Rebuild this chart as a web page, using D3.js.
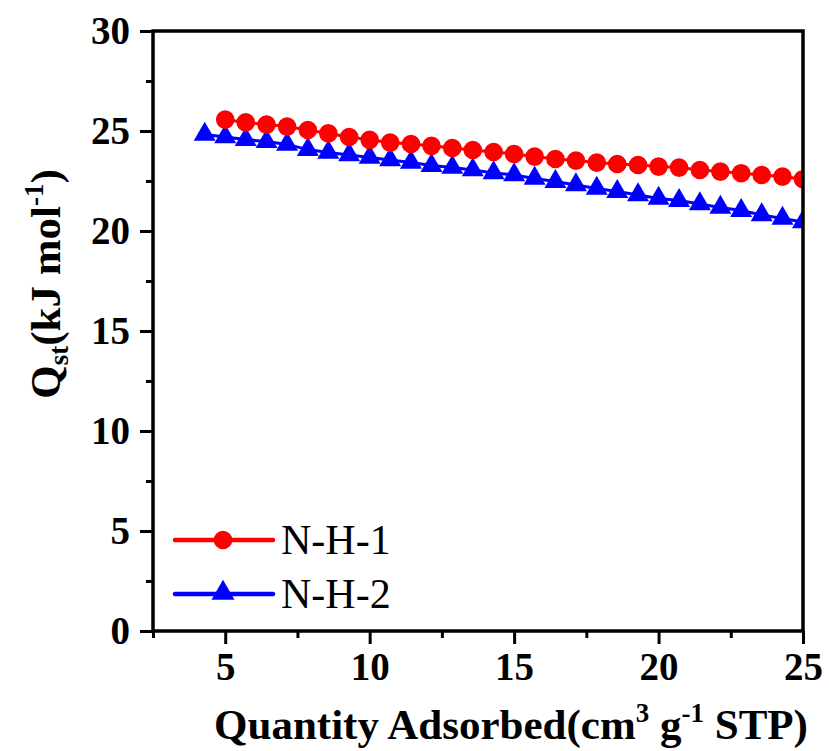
<!DOCTYPE html>
<html>
<head>
<meta charset="utf-8">
<script src="https://cdn.jsdelivr.net/npm/d3@7"></script>
<style>
  html, body { margin: 0; padding: 0; background: #fff; }
  svg { display: block; }
</style>
</head>
<body>
<div id="chart"></div>
<script>
// ---- data ----
const seriesNames = ["N-H-1", "N-H-2"];
const xNH1 = [5.0, 5.71, 6.43, 7.14, 7.86, 8.57, 9.29, 10.0, 10.71, 11.43, 12.14, 12.86, 13.57, 14.29, 15.0,
  15.71, 16.43, 17.14, 17.86, 18.57, 19.29, 20.0, 20.71, 21.43, 22.14, 22.86, 23.57, 24.29, 25.0];
const yNH1 = [25.57, 25.43, 25.32, 25.22, 25.05, 24.88, 24.7, 24.56, 24.42, 24.35, 24.26, 24.15, 24.05, 23.95, 23.85,
  23.72, 23.6, 23.52, 23.42, 23.35, 23.3, 23.22, 23.17, 23.05, 22.97, 22.89, 22.8, 22.72, 22.59];
const xNH2 = [4.29, 5.0, 5.71, 6.43, 7.14, 7.86, 8.57, 9.29, 10.0, 10.71, 11.43, 12.14, 12.86, 13.57, 14.29, 15.0,
  15.71, 16.43, 17.14, 17.86, 18.57, 19.29, 20.0, 20.71, 21.43, 22.14, 22.86, 23.57, 24.29, 25.0];
const yNH2 = [24.83, 24.7, 24.57, 24.47, 24.33, 24.07, 23.93, 23.8, 23.68, 23.55, 23.43, 23.27, 23.18, 23.05, 22.9,
  22.8, 22.63, 22.47, 22.3, 22.13, 21.97, 21.8, 21.63, 21.52, 21.35, 21.18, 21.02, 20.8, 20.63, 20.45];
const xMajorTicks = [5, 10, 15, 20, 25];
const xMinorTicks = [2.5, 7.5, 12.5, 17.5, 22.5];
const yMajorTicks = [0, 5, 10, 15, 20, 25, 30];
const yMinorTicks = [2.5, 7.5, 12.5, 17.5, 22.5, 27.5];

// ---- layout ----
const W = 829, H = 751;
const L = 153, R = 803, T = 31, B = 631;
const FONT = "'Liberation Serif', 'Times New Roman', serif";

const svg = d3.select("#chart").append("svg").attr("width", W).attr("height", H);

const x = d3.scaleLinear().domain([2.5, 25]).range([L, R]);
const y = d3.scaleLinear().domain([0, 30]).range([B, T]);

svg.append("defs").append("clipPath").attr("id", "plotclip")
  .append("rect").attr("x", L).attr("y", T).attr("width", R - L).attr("height", B - T);

const series = [
  { name: seriesNames[0], xs: xNH1, ys: yNH1, color: "#ff0000", symbol: d3.symbolCircle, size: Math.PI * 9.3 * 9.3 },
  { name: seriesNames[1], xs: xNH2, ys: yNH2, color: "#0000ff", symbol: d3.symbolTriangle, size: 210 }
];

const plot = svg.append("g").attr("clip-path", "url(#plotclip)");
const line = d3.line().x(d => x(d[0])).y(d => y(d[1]));

series.slice().reverse().forEach(s => {
  const pts = s.xs.map((v, i) => [v, s.ys[i]]);
  plot.append("path").datum(pts).attr("d", line)
    .attr("fill", "none").attr("stroke", s.color).attr("stroke-width", 3);
  plot.selectAll(null).data(pts).enter().append("path")
    .attr("transform", d => `translate(${x(d[0])},${y(d[1])})`)
    .attr("d", d3.symbol().type(s.symbol).size(s.size))
    .attr("fill", s.color);
});

// ---- axes ----
const axisStroke = 3.5;
function styleAxis(g) {
  g.select(".domain").remove();
  g.selectAll(".tick line").attr("stroke", "#000").attr("stroke-width", 3);
  g.selectAll(".tick text").attr("font-family", FONT).attr("font-weight", "bold")
    .attr("font-size", 39).attr("fill", "#000");
}
svg.append("g").attr("transform", `translate(0,${B})`)
  .call(d3.axisBottom(x).tickValues(xMinorTicks).tickSize(7).tickFormat(""))
  .call(styleAxis);
svg.append("g").attr("transform", `translate(0,${B})`)
  .call(d3.axisBottom(x).tickValues(xMajorTicks).tickSize(13).tickPadding(8).tickFormat(d3.format("d")))
  .call(styleAxis);
svg.append("g").attr("transform", `translate(${L},0)`)
  .call(d3.axisLeft(y).tickValues(yMinorTicks).tickSize(7).tickFormat(""))
  .call(styleAxis);
svg.append("g").attr("transform", `translate(${L},0)`)
  .call(d3.axisLeft(y).tickValues(yMajorTicks).tickSize(13).tickPadding(10).tickFormat(d3.format("d")))
  .call(styleAxis);

svg.append("rect").attr("x", L).attr("y", T).attr("width", R - L).attr("height", B - T)
  .attr("fill", "none").attr("stroke", "#000").attr("stroke-width", axisStroke);

// ---- axis titles ----
const xt = svg.append("text").attr("x", 511).attr("y", 739)
  .attr("text-anchor", "middle").attr("font-family", FONT).attr("font-weight", "bold")
  .attr("font-size", 43).attr("fill", "#000");
xt.append("tspan").text("Quantity Adsorbed(cm");
xt.append("tspan").attr("dy", -17).attr("font-size", 27).text("3");
xt.append("tspan").attr("dy", 17).text(" g");
xt.append("tspan").attr("dy", -17).attr("font-size", 27).text("-1");
xt.append("tspan").attr("dy", 17).text(" STP)");

const yt = svg.append("text").attr("transform", `translate(60,${284}) rotate(-90)`)
  .attr("text-anchor", "middle").attr("font-family", FONT).attr("font-weight", "bold")
  .attr("font-size", 43).attr("fill", "#000");
yt.append("tspan").text("Q");
yt.append("tspan").attr("dy", 8).attr("font-size", 27).text("st");
yt.append("tspan").attr("dy", -8).text("(kJ mol");
yt.append("tspan").attr("dy", -17).attr("font-size", 27).text("-1");
yt.append("tspan").attr("dy", 17).text(")");

// ---- legend ----
const legendY = [540, 594];
series.forEach((s, i) => {
  const g = svg.append("g");
  g.append("line").attr("x1", 175).attr("x2", 273).attr("y1", legendY[i]).attr("y2", legendY[i])
    .attr("stroke", s.color).attr("stroke-width", 4.5).attr("stroke-linecap", "round");
  g.append("path").attr("transform", `translate(223,${legendY[i] - (i === 1 ? 1 : 0)})`)
    .attr("d", d3.symbol().type(s.symbol).size(i === 1 ? 230 : s.size)).attr("fill", s.color);
  g.append("text").attr("x", 281).attr("y", legendY[i] + 14)
    .attr("font-family", FONT).attr("font-size", 42).attr("fill", "#000").text(s.name);
});
</script>
</body>
</html>
